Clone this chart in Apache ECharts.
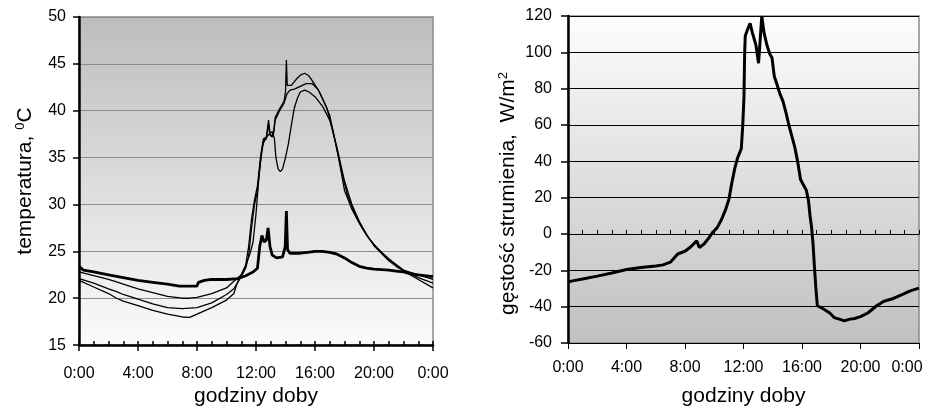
<!DOCTYPE html>
<html>
<head>
<meta charset="utf-8">
<script src="https://cdn.jsdelivr.net/npm/echarts@6/dist/echarts.min.js"></script>
<style>html,body{margin:0;padding:0;background:#fff}#c{width:939px;height:412px}</style>
</head>
<body>
<div id="c"></div>
<script>
// ---- data (hour of day, value) ----
const hourTicks = [0, 4, 8, 12, 16, 20, 24];
const tempThick = [[0,23.4],[0.3,23.0],[1,22.8],[2,22.5],[3,22.2],[4,21.9],[5,21.7],[6,21.5],[6.8,21.3],[8.0,21.3],[8.1,21.7],[8.5,21.9],[9,22.0],[10,22.0],[10.8,22.1],[11.3,22.4],[11.8,22.8],[12.1,23.2],[12.25,25.5],[12.4,26.7],[12.55,26.0],[12.7,26.2],[12.82,27.5],[12.95,25.5],[13.1,24.6],[13.4,24.3],[13.8,24.4],[13.98,25.5],[14.06,29.3],[14.14,25.2],[14.3,24.8],[15,24.8],[15.5,24.9],[16,25.0],[16.5,25.0],[17,24.9],[17.5,24.7],[18,24.3],[18.5,23.8],[19,23.4],[19.5,23.2],[20,23.1],[21,23.0],[21.5,22.9],[22,22.8],[22.5,22.6],[23,22.5],[24,22.3]];
const tempB = [[0,22.8],[1,22.4],[2,22.0],[2.55,21.75],[3,21.5],[4,21.0],[5,20.6],[6,20.2],[7,20.0],[7.5,20.0],[8,20.1],[9,20.5],[10,21.1],[10.5,21.8],[11,22.5],[11.3,23.5],[11.5,25.5],[11.7,28.5],[11.9,30.5],[12.1,32],[12.3,35],[12.5,37],[12.7,37.2],[12.85,39],[12.95,37.5],[13.1,37.3],[13.2,37.8],[13.3,39.3],[13.6,40.2],[13.9,41],[14.0,42],[14.06,45.4],[14.12,42.7],[14.4,42.7],[14.7,43.3],[15.0,43.8],[15.3,44.0],[15.6,43.7],[15.9,43.0],[16.3,42.0],[16.8,40.3],[17.2,38],[17.6,35],[18.0,31.5],[18.5,29.5],[19.0,28.0],[19.5,26.7],[20,25.7],[20.5,24.9],[21,24.2],[21.5,23.6],[22,23.0],[23,22.5],[24,22.0]];
const tempC = [[0,22.1],[1,21.6],[2,21.0],[2.55,20.7],[3,20.4],[4,19.9],[5,19.4],[6,19.0],[7,18.9],[8,19.0],[9,19.5],[10,20.4],[10.5,21.0],[10.8,21.8],[11,22.3],[11.3,23.2],[11.5,24.5],[11.7,27.5],[11.9,30],[12.1,31.5],[12.3,34.5],[12.5,36.7],[12.7,37.0],[12.85,38.5],[12.95,37.4],[13.1,37.2],[13.2,37.6],[13.3,39.0],[13.6,40.0],[13.9,40.8],[14.1,41.8],[14.3,42.2],[14.6,42.3],[15.0,42.6],[15.4,42.9],[15.8,42.9],[16.2,42.3],[16.6,41.0],[17.0,39.5],[17.4,36.5],[17.8,33.5],[18.2,31],[18.7,29],[19.2,27.5],[19.7,26.3],[20.2,25.4],[20.7,24.6],[21.2,23.9],[21.7,23.3],[22.2,22.8],[23,22.2],[24,21.6]];
const tempD = [[0,21.9],[1,21.2],[2,20.5],[2.55,20.0],[3,19.7],[4,19.2],[5,18.7],[6,18.3],[7,18.0],[7.5,17.95],[8,18.3],[9,19.0],[10,19.8],[10.5,20.5],[10.7,21.5],[11,22.5],[11.3,23.5],[11.6,24.8],[11.8,26],[12.0,29],[12.2,33],[12.4,36],[12.6,37],[12.9,37.5],[13.1,37.8],[13.25,37.0],[13.35,35],[13.5,33.8],[13.65,33.5],[13.8,33.8],[14.0,35],[14.2,36.5],[14.4,38.5],[14.6,40.3],[14.8,41.3],[15.0,42.0],[15.3,42.2],[15.6,42.0],[16,41.5],[16.5,40.5],[17,39],[17.5,36],[18,32.5],[18.5,30],[19,28.2],[19.5,26.8],[20,25.6],[20.5,24.8],[21,24.0],[21.5,23.4],[22,22.9],[23,22.0],[24,21.1]];
const flux = [[0,-26.5],[0.3,-25.8],[1,-24.8],[2,-23.2],[3,-21.5],[4,-19.5],[5,-18.4],[6,-17.6],[6.5,-17.0],[7.0,-15.5],[7.5,-11.0],[8,-9.5],[8.4,-7.0],[8.8,-3.8],[8.98,-7.4],[9.3,-5.5],[9.6,-2.5],[9.9,1.0],[10.2,3.5],[10.5,8],[10.8,14],[11.0,19],[11.2,28],[11.4,36],[11.6,42],[11.85,47],[11.95,60],[12.03,75],[12.08,100],[12.12,109],[12.25,112],[12.45,116],[12.6,111],[12.85,104],[13.03,94],[13.15,108],[13.25,120],[13.4,111],[13.6,104],[13.8,99],[13.95,97],[14.1,87],[14.3,82],[14.5,77],[14.7,73],[14.9,67],[15.1,60],[15.3,54],[15.5,48],[15.7,40],[15.9,30],[16.1,27],[16.3,24],[16.45,18],[16.55,10],[16.65,4],[16.75,-5],[16.85,-18],[16.95,-30],[17.05,-39.5],[17.3,-40.5],[17.6,-42],[17.9,-43.5],[18.2,-46],[18.6,-47],[18.9,-47.8],[19.2,-47],[19.6,-46.5],[20,-45.5],[20.5,-43.5],[21.1,-39.5],[21.6,-37],[22.25,-35.5],[22.8,-33.5],[23.4,-31.3],[24,-29.8]];
const tempRange = [15, 50, 5];
const fluxRange = [-60, 120, 20];

const FONT = 'Liberation Sans, Arial, sans-serif';
const fmtHour = v => (v % 24) + ':00';
const chart = echarts.init(document.getElementById('c'), null, {renderer: 'canvas'});

function grad(top, bottom) {
  return {type: 'linear', x: 0, y: 0, x2: 0, y2: 1,
    colorStops: [{offset: 0, color: top}, {offset: 1, color: bottom}]};
}
function line(data, w, xi, yi) {
  return {type: 'line', data: data, xAxisIndex: xi, yAxisIndex: yi, showSymbol: false,
    symbol: 'none', lineStyle: {color: '#000', width: w}, z: 5, silent: true};
}

chart.setOption({
  animation: false,
  textStyle: {fontFamily: FONT},
  grid: [
    {left: 79, right: 506, top: 17, bottom: 63, show: true,
     backgroundColor: grad('#bdbdbd', '#fbfbfb'), borderColor: '#8a8a8a', borderWidth: 1.5},
    {left: 568, right: 20, top: 16, bottom: 69, show: true,
     backgroundColor: grad('#fdfdfd', '#c0c0c0'), borderColor: '#8a8a8a', borderWidth: 1.5}
  ],
  xAxis: [
    {gridIndex: 0, type: 'value', min: 0, max: 24, interval: 4, position: 'bottom',
     axisLine: {show: true, lineStyle: {color: '#000', width: 2.5}},
     axisTick: {show: true, inside: false, length: 6, lineStyle: {color: '#000', width: 1.5}},
     axisLabel: {show: true, formatter: fmtHour, fontSize: 16, color: '#000', margin: 20, fontFamily: FONT},
     splitLine: {show: false},
     name: 'godziny doby', nameLocation: 'middle', nameGap: 38,
     nameTextStyle: {fontSize: 21, color: '#000', fontFamily: FONT}},
    {gridIndex: 0, type: 'value', min: 0, max: 24, interval: 1, position: 'bottom',
     axisLine: {show: false},
     axisTick: {show: true, inside: true, length: 4, lineStyle: {color: '#000', width: 1.5}},
     axisLabel: {show: false}, splitLine: {show: false}},
    {gridIndex: 1, type: 'value', min: 0, max: 24, interval: 4, position: 'bottom',
     axisLine: {show: false, onZero: false},
     axisTick: {show: false},
     axisLabel: {show: true, fontSize: 16, color: '#000', margin: 17, fontFamily: FONT,
       formatter: v => v === 24 ? '{e|0:00}' : fmtHour(v),
       rich: {e: {fontSize: 16, color: '#000', fontFamily: FONT, padding: [0, 24, 0, 0]}}},
     splitLine: {show: false},
     name: 'godziny doby', nameLocation: 'middle', nameGap: 43,
     nameTextStyle: {fontSize: 21, color: '#000', fontFamily: FONT}},
    {gridIndex: 1, type: 'value', min: 0, max: 24, interval: 1, position: 'bottom',
     axisLine: {show: true, onZero: true, lineStyle: {color: '#000', width: 1}},
     axisTick: {show: true, inside: true, length: 4, lineStyle: {color: '#000', width: 1}},
     axisLabel: {show: false}, splitLine: {show: false}},
    {gridIndex: 1, type: 'value', min: 0, max: 24, interval: 4, position: 'bottom',
     axisLine: {show: false, onZero: true},
     axisTick: {show: true, inside: false, length: 6, lineStyle: {color: '#000', width: 1}},
     axisLabel: {show: false}, splitLine: {show: false}}
  ],
  yAxis: [
    {gridIndex: 0, type: 'value', min: tempRange[0], max: tempRange[1], interval: tempRange[2],
     axisLine: {show: true, onZero: false, lineStyle: {color: '#000', width: 2.5}},
     axisTick: {show: true, length: 6, lineStyle: {color: '#000', width: 1.5}},
     axisLabel: {fontSize: 16, color: '#000', margin: 13, fontFamily: FONT},
     splitLine: {show: true, lineStyle: {color: '#8c8c8c', width: 1}},
     name: 'temperatura, {s|0}C', nameLocation: 'middle', nameGap: 42,
     nameTextStyle: {fontSize: 21, color: '#000', fontFamily: FONT,
       rich: {s: {fontSize: 13, color: '#000', fontFamily: FONT, verticalAlign: 'top', padding: [0, 0, 10, 0]}}}},
    {gridIndex: 1, type: 'value', min: fluxRange[0], max: fluxRange[1], interval: fluxRange[2],
     axisLine: {show: true, onZero: false, lineStyle: {color: '#000', width: 2.5}},
     axisTick: {show: true, length: 7, lineStyle: {color: '#000', width: 1.5}},
     axisLabel: {fontSize: 16, color: '#000', margin: 16, fontFamily: FONT},
     splitLine: {show: true, lineStyle: {color: '#000', width: 1}},
     name: 'gęstość strumienia,  W/m{s|2}', nameLocation: 'middle', nameGap: 48,
     nameTextStyle: {fontSize: 21, color: '#000', fontFamily: FONT, padding: [0, 28, 0, 0],
       rich: {s: {fontSize: 13, color: '#000', fontFamily: FONT, verticalAlign: 'top', padding: [0, 0, 10, 0]}}}}
  ],
  series: [
    line(tempD, 1.3, 0, 0),
    line(tempC, 1.3, 0, 0),
    line(tempB, 1.3, 0, 0),
    line(tempThick, 2.8, 0, 0),
    line(flux, 3, 2, 1)
  ]
});
</script>
</body>
</html>
